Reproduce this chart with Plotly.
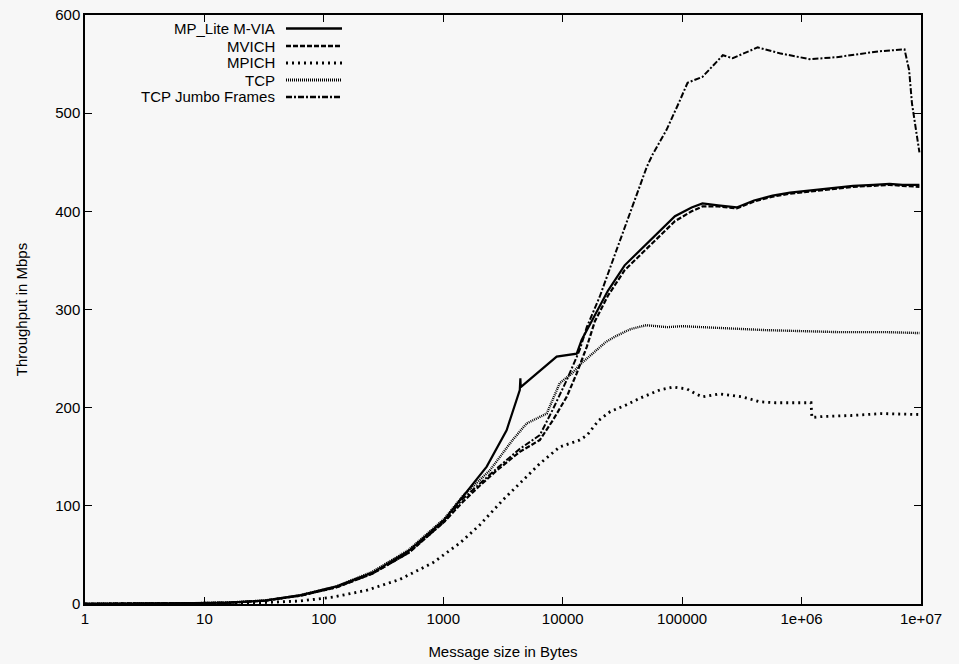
import plotly.graph_objects as go

# ---------------- data ----------------
series_names = ["MP_Lite M-VIA", "MVICH", "MPICH", "TCP", "TCP Jumbo Frames"]

mplite_x = [1, 2, 4, 8, 16, 32, 64, 128, 256, 512, 1024, 1456, 2310, 3390, 4370, 4420, 4450,
            8900, 13100, 14400, 18600, 23900, 33000, 45700, 63000, 87000, 120000, 148000,
            200000, 286000, 400000, 572000, 800000, 1100000, 1700000, 2700000, 4000000,
            5450000, 7000000, 9700000]
mplite_y = [0.1, 0.2, 0.4, 0.8, 1.5, 3.5, 9, 18, 32, 54, 86, 109, 140, 177, 218, 230, 221,
            252, 255, 269, 294, 319, 345, 362, 379, 395, 404, 408,
            406, 404, 411, 416, 419, 421, 423, 426, 427,
            428, 427, 427]

mvich_x = [1, 2, 4, 8, 16, 32, 64, 128, 256, 512, 1024, 1456, 2000, 2800, 4370, 6430, 8250,
           10800, 13100, 15900, 18600, 23900, 33000, 45700, 63000, 87000, 120000, 148000,
           200000, 286000, 400000, 572000, 800000, 1100000, 1700000, 2700000, 4000000,
           5450000, 7000000, 9700000]
mvich_y = [0.1, 0.2, 0.4, 0.8, 1.4, 3.4, 8.5, 17, 31, 52, 84, 104, 120, 136, 155, 167, 187,
           211, 235, 262, 288, 314, 340, 357, 374, 390, 400, 405,
           405, 403, 410, 415, 418, 420, 422, 425, 426,
           427, 426, 425]

mpich_x = [1, 2, 4, 8, 16, 32, 63, 119, 229, 432, 817, 1375, 2000, 3160, 4370, 6430, 9440,
           13900, 16000, 20000, 25000, 34300, 45000, 56600, 65000, 83600, 110000, 130000,
           148000, 206000, 320000, 446000, 600000, 1200000, 1220000, 1500000, 2600000,
           4700000, 9700000]
mpich_y = [0.05, 0.1, 0.2, 0.4, 0.8, 1.5, 3, 7, 14, 25, 42, 62, 80, 106, 123, 143, 160,
           167, 172, 187, 196, 203, 210, 215, 218, 221, 219, 214,
           211, 214, 211, 206, 205, 205, 190, 191, 192,
           194, 193]

tcp_x = [1, 2, 4, 8, 16, 32, 64, 128, 256, 512, 1024, 1456, 2450, 3800, 5000, 7350, 9440,
         12000, 14000, 18000, 23000, 28000, 37000, 50000, 75000, 100000, 150000, 200000,
         300000, 500000, 1000000, 2000000, 5000000, 9700000]
tcp_y = [0.1, 0.2, 0.4, 0.8, 1.5, 3.6, 9, 18, 33, 55, 87, 110, 136, 167, 184, 194, 225,
         235, 244, 256, 267, 273, 280, 284, 282, 283, 282, 281,
         280, 279, 278, 277, 277, 276]

jumbo_x = [1, 2, 4, 8, 16, 32, 64, 128, 256, 512, 1024, 1456, 2800, 4370, 6430, 8250, 10800,
           13900, 15900, 20400, 28500, 34000, 38500, 44000, 50500, 56600, 74000, 95000,
           111000, 148000, 219000, 265000, 429000, 655000, 1170000, 1960000, 4460000,
           7280000, 7950000, 8400000, 9700000]
jumbo_y = [0.1, 0.2, 0.4, 0.8, 1.4, 3.4, 8.5, 17, 31, 52, 84, 107, 138, 158, 172, 198, 228,
           259, 282, 313, 362, 388, 405, 425, 445, 458, 483, 512,
           531, 537, 559, 556, 567, 561, 555, 557, 563,
           565, 544, 510, 460]

x_tickvals = [1, 10, 100, 1000, 10000, 100000, 1000000, 10000000]
x_ticktext = ["1", "10", "100", "1000", "10000", "100000", "1e+06", "1e+07"]
y_tickvals = [0, 100, 200, 300, 400, 500, 600]

# ---------------- styles ----------------
styles = [
    dict(dash="solid", width=2.2),
    dict(dash="5px,2px", width=2.2),
    dict(dash="2px,4px", width=2.8),
    dict(dash="1px,1px", width=2.4),
    dict(dash="6px,2px,2px,2px", width=2.0),
]
data = [(mplite_x, mplite_y), (mvich_x, mvich_y), (mpich_x, mpich_y),
        (tcp_x, tcp_y), (jumbo_x, jumbo_y)]

FONT = "Liberation Sans, Arial, sans-serif"
BG = "#f7f7f7"

fig = go.Figure()
for name, (xs, ys), st in zip(series_names, data, styles):
    fig.add_trace(go.Scatter(x=xs, y=ys, mode="lines", name=name,
                             line=dict(color="black", width=st["width"], dash=st["dash"]),
                             showlegend=False))

# gnuplot-style key: right-aligned text followed by line sample
L, R, T, B = 85, 38, 15, 60
W, H = 959, 664
pw, ph = W - L - R, H - T - B
rows_py = [28.5, 46, 63, 80, 97]
text_right_px, samp0, samp1 = 277, 286, 342
for name, st, py in zip(series_names, styles, rows_py):
    yp = (H - B - py) / ph
    fig.add_annotation(x=(text_right_px - L) / pw, y=yp, xref="paper", yref="paper",
                       text=name, showarrow=False, xanchor="right", yanchor="middle",
                       font=dict(family=FONT, size=15, color="black"))
    fig.add_shape(type="line", xref="paper", yref="paper",
                  x0=(samp0 - L) / pw, x1=(samp1 - L) / pw, y0=yp, y1=yp,
                  line=dict(color="black", width=st["width"] + 0.4, dash=st["dash"]))

fig.update_layout(
    width=W, height=H,
    margin=dict(l=L, r=R, t=T, b=B),
    paper_bgcolor=BG, plot_bgcolor=BG,
    font=dict(family=FONT, size=15, color="black"),
    showlegend=False,
)
fig.update_xaxes(
    type="log", range=[0, 7], automargin=False,
    tickvals=x_tickvals, ticktext=x_ticktext,
    ticks="inside", ticklen=7, tickwidth=1.2, tickcolor="black",
    showline=True, linecolor="black", linewidth=1.5, mirror="ticks",
    showgrid=False, zeroline=False,
    title=dict(text="Message size in Bytes", standoff=21,
               font=dict(size=15, color="black", family=FONT)),
    tickfont=dict(size=15, color="black", family=FONT),
)
fig.update_yaxes(
    range=[0, 600], tickvals=y_tickvals, automargin=False,
    ticks="inside", ticklen=7, tickwidth=1.2, tickcolor="black",
    showline=True, linecolor="black", linewidth=1.5, mirror="ticks",
    showgrid=False, zeroline=False,
    title=dict(text="Throughput in Mbps", standoff=24,
               font=dict(size=15, color="black", family=FONT)),
    tickfont=dict(size=15, color="black", family=FONT),
)

fig.write_html("out.html")
